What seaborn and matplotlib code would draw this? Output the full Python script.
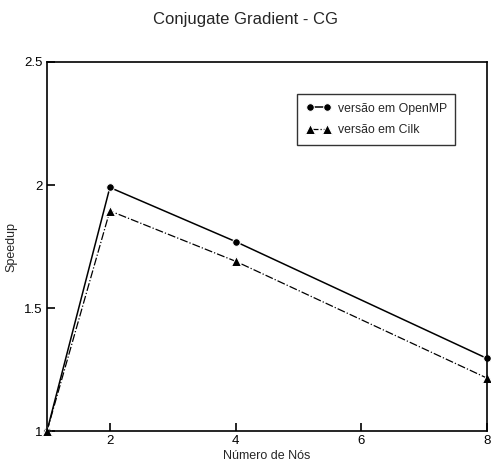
import matplotlib
matplotlib.use("Agg")
import matplotlib.pyplot as plt
import seaborn as sns
import pandas as pd

nodes = [1, 2, 4, 8]
openmp = [1.0, 1.99, 1.77, 1.295]
cilk = [1.0, 1.895, 1.69, 1.215]
series_names = ["versão em OpenMP", "versão em Cilk"]
xticks = [2, 4, 6, 8]
yticks = [1, 1.5, 2, 2.5]
ytick_labels = ["1", "1.5", "2", "2.5"]

sns.set_style("white")
plt.rcParams['font.family'] = ['Liberation Sans', 'DejaVu Sans']

df = pd.DataFrame({
    "x": nodes * 2,
    "y": openmp + cilk,
    "s": [series_names[0]] * len(nodes) + [series_names[1]] * len(nodes),
})

fig = plt.figure(figsize=(4.91, 4.66), dpi=100)
ax = fig.add_axes([0.0957, 0.075, 0.8963, 0.792])

sns.lineplot(data=df[df.s == series_names[0]], x="x", y="y", ax=ax, color="black",
             marker="o", markersize=5.5, linewidth=1.1, linestyle="-", label=series_names[0],
             clip_on=False)
sns.lineplot(data=df[df.s == series_names[1]], x="x", y="y", ax=ax, color="black",
             marker="^", markersize=6.5, linewidth=0.9, linestyle="-.", label=series_names[1],
             clip_on=False)

ax.set_xlim(1, 8)
ax.set_ylim(1, 2.5)
ax.set_xticks(xticks)
ax.set_xticklabels([str(t) for t in xticks])
ax.set_yticks(yticks)
ax.set_yticklabels(ytick_labels)
ax.tick_params(bottom=True, left=True, direction="in", length=6, width=1.2,
               labelsize=9.5, pad=3, colors="black")
for sp in ax.spines.values():
    sp.set_color("black")
    sp.set_linewidth(1.2)

ax.set_xlabel("Número de Nós", fontsize=9, labelpad=2)
ax.set_ylabel("Speedup", fontsize=9)
ax.yaxis.set_label_coords(-0.068, 0.5)
fig.suptitle("Conjugate Gradient - CG", fontsize=12, y=0.975)

leg = ax.legend(loc="upper right", bbox_to_anchor=(0.928, 0.913), frameon=True,
                fancybox=False, fontsize=8.8, handlelength=2.0, borderpad=0.7,
                labelspacing=0.8, numpoints=2, handletextpad=0.6, borderaxespad=0.0)
leg.get_frame().set_edgecolor("black")
leg.get_frame().set_linewidth(1.0)

fig.savefig("out.png", dpi=100)
